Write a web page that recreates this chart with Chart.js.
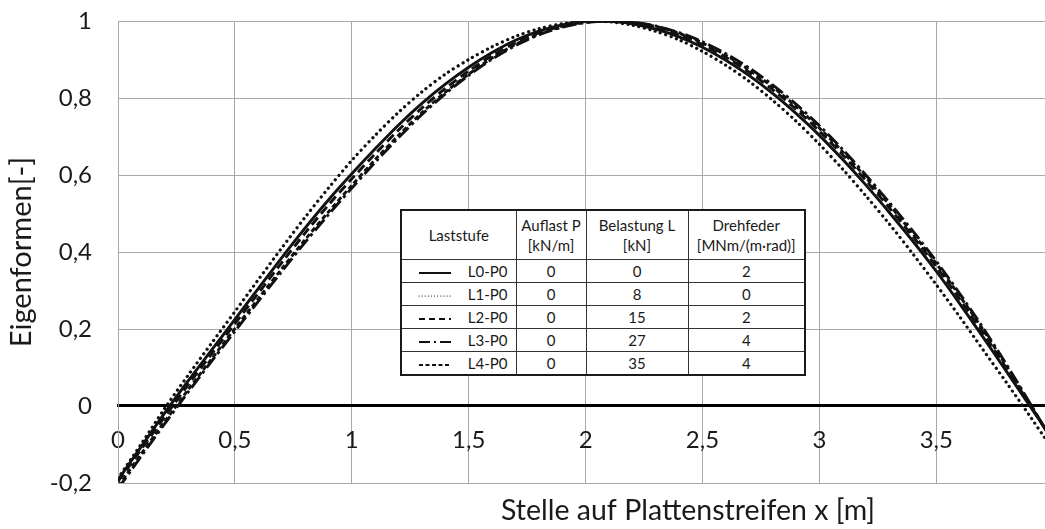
<!DOCTYPE html>
<html>
<head>
<meta charset="utf-8">
<script src="https://cdn.jsdelivr.net/npm/chart.js@4/dist/chart.umd.min.js"></script>
<style>
  html, body { margin: 0; padding: 0; background: #fff; }
  #wrap { position: relative; width: 1045px; height: 529px; }
  #legend {
    position: absolute; left: 400px; top: 209px;
    border-collapse: collapse; table-layout: fixed;
    border: 2px solid #1a1a1a; background: #fff;
    font: 15px Lato, sans-serif; color: #1a1a1a;
  }
  #legend td, #legend th {
    border: 1px solid #333; padding: 0; text-align: center;
    font-weight: normal; height: 22px; line-height: 18px;
  }
  #legend th { height: 48px; line-height: 20px; }
  #legend td.name { text-align: right; padding-right: 8px; }
  #legend td.name svg { float: left; margin: 7px 0 0 16px; }
</style>
</head>
<body>
<div id="wrap">
  <canvas id="chart" width="1045" height="529"></canvas>
  <table id="legend"></table>
</div>
<script>
// x positions along the strip [m]
const xs = [0, 0.1, 0.2, 0.3, 0.4, 0.5, 0.6, 0.7, 0.8, 0.9, 1.0, 1.1, 1.2, 1.3, 1.4,
  1.5, 1.6, 1.7, 1.8, 1.9, 2.0, 2.1, 2.2, 2.3, 2.4, 2.5, 2.6, 2.7, 2.8, 2.9, 3.0,
  3.1, 3.2, 3.3, 3.4, 3.5, 3.6, 3.7, 3.8, 3.9, 3.97];

// mode shapes
const l0p0 = [-0.192, -0.105, -0.018, 0.065, 0.145, 0.225, 0.305, 0.385, 0.462, 0.535, 0.603,
  0.668, 0.730, 0.786, 0.836, 0.880, 0.918, 0.950, 0.974, 0.990, 0.999, 0.999, 0.993, 0.979,
  0.959, 0.932, 0.898, 0.858, 0.812, 0.760, 0.703, 0.640, 0.573, 0.502, 0.428, 0.350, 0.266,
  0.179, 0.090, 0.000, -0.062];
const l1p0 = [-0.188, -0.098, -0.006, 0.080, 0.163, 0.245, 0.328, 0.410, 0.490, 0.566, 0.638,
  0.703, 0.763, 0.816, 0.862, 0.900, 0.933, 0.960, 0.980, 0.993, 1.000, 0.998, 0.989, 0.973,
  0.951, 0.921, 0.885, 0.843, 0.794, 0.740, 0.680, 0.615, 0.545, 0.472, 0.395, 0.315, 0.232,
  0.146, 0.061, -0.026, -0.088];
const l2p0 = [-0.196, -0.112, -0.028, 0.055, 0.135, 0.214, 0.293, 0.372, 0.449, 0.522, 0.590,
  0.655, 0.717, 0.774, 0.825, 0.870, 0.910, 0.943, 0.969, 0.987, 0.997, 1.000, 0.996, 0.984,
  0.965, 0.939, 0.906, 0.867, 0.822, 0.771, 0.714, 0.652, 0.585, 0.514, 0.440, 0.362, 0.278,
  0.190, 0.098, 0.004, -0.064];
const l3p0 = [-0.215, -0.130, -0.046, 0.036, 0.116, 0.194, 0.272, 0.349, 0.425, 0.497, 0.566,
  0.633, 0.697, 0.757, 0.811, 0.859, 0.901, 0.936, 0.964, 0.984, 0.996, 1.000, 0.997, 0.987,
  0.970, 0.946, 0.915, 0.878, 0.834, 0.784, 0.728, 0.666, 0.599, 0.528, 0.454, 0.376, 0.292,
  0.203, 0.108, 0.008, -0.064];
const l4p0 = [-0.208, -0.124, -0.040, 0.042, 0.122, 0.201, 0.279, 0.356, 0.432, 0.504, 0.573,
  0.640, 0.703, 0.762, 0.815, 0.862, 0.904, 0.939, 0.966, 0.985, 0.997, 1.000, 0.996, 0.986,
  0.968, 0.943, 0.911, 0.873, 0.829, 0.778, 0.722, 0.660, 0.593, 0.522, 0.448, 0.370, 0.286,
  0.198, 0.104, 0.006, -0.064];

// legend table
const laststufe = ['L0-P0', 'L1-P0', 'L2-P0', 'L3-P0', 'L4-P0'];
const auflastP = [0, 0, 0, 0, 0];
const belastungL = [0, 8, 15, 27, 35];
const drehfeder = [2, 0, 2, 4, 4];
const headers = [['Laststufe'], ['Auflast P', '[kN/m]'], ['Belastung L', '[kN]'], ['Drehfeder', '[MNm/(m\u00b7rad)]']];

const xTitle = 'Stelle auf Plattenstreifen x [m]';
const yTitle = 'Eigenformen[-]';

const series = [l0p0, l1p0, l2p0, l3p0, l4p0];
// line styles per Laststufe: canvas dash, svg dasharray, cap
const styles = [
  { dash: [], svg: '', cap: 'butt' },
  { dash: [0.1, 5.5], svg: '0.1 3', cap: 'round' },
  { dash: [9, 5], svg: '6 4', cap: 'butt' },
  { dash: [14, 4, 3, 4], svg: '11 4 2 4', cap: 'butt' },
  { dash: [5, 3], svg: '4 2.5', cap: 'butt' },
];

const fmt = v => String(Math.round(v * 10) / 10).replace('.', ',');

Chart.defaults.font.family = 'Lato, sans-serif';
Chart.defaults.color = '#1a1a1a';

const xTitlePlugin = {
  id: 'xTitle',
  afterDraw(chart) {
    const ctx = chart.ctx;
    ctx.save();
    ctx.font = '28.5px Lato, sans-serif';
    ctx.fillStyle = '#1a1a1a';
    ctx.textAlign = 'center';
    ctx.textBaseline = 'middle';
    ctx.fillText(xTitle, 688, 511);
    ctx.restore();
  }
};

new Chart(document.getElementById('chart'), {
  type: 'line',
  data: {
    datasets: series.map((s, i) => ({
      label: laststufe[i],
      data: xs.map((x, j) => ({ x: x, y: s[j] })),
      borderColor: '#111',
      borderWidth: i === 1 ? 3.2 : 2.9,
      borderDash: styles[i].dash,
      borderCapStyle: styles[i].cap,
      pointRadius: 0,
      tension: 0.3,
      fill: false,
    })),
  },
  options: {
    responsive: false,
    animation: false,
    layout: { padding: { top: 21, right: 0, bottom: 46, left: 0 } },
    plugins: {
      legend: { display: false },
      tooltip: { enabled: false },
    },
    scales: {
      x: {
        type: 'linear',
        min: 0,
        max: 3.965,
        position: { y: 0 },
        grid: { color: '#a8a8a8', lineWidth: 1, drawTicks: false },
        border: { display: true, color: '#000', width: 3 },
        ticks: {
          stepSize: 0.5,
          includeBounds: false,
          padding: 20,
          maxRotation: 0,
          font: { size: 24 },
          callback: v => fmt(v),
        },
      },
      y: {
        type: 'linear',
        min: -0.2,
        max: 1,
        afterFit: s => { s.width = 118; },
        grid: { color: '#a8a8a8', lineWidth: 1, drawTicks: true, tickLength: 26, tickColor: 'rgba(0,0,0,0)' },
        border: { display: true, color: '#a8a8a8', width: 1 },
        ticks: {
          stepSize: 0.2,
          padding: 0,
          font: { size: 24 },
          callback: v => fmt(v),
        },
        title: {
          display: true,
          text: yTitle,
          font: { size: 29 },
          padding: { top: 4, bottom: 0 },
        },
      },
    },
  },
  plugins: [xTitlePlugin],
});

// build legend table
const table = document.getElementById('legend');
const colWidths = [115, 70, 102, 117];
const colgroup = document.createElement('colgroup');
colWidths.forEach(w => {
  const c = document.createElement('col');
  c.style.width = w + 'px';
  colgroup.appendChild(c);
});
table.appendChild(colgroup);
const head = document.createElement('tr');
headers.forEach(h => {
  const th = document.createElement('th');
  th.innerHTML = h.join('<br>');
  head.appendChild(th);
});
table.appendChild(head);
laststufe.forEach((name, i) => {
  const tr = document.createElement('tr');
  const st = styles[i];
  const td = document.createElement('td');
  td.className = 'name';
  td.innerHTML = '<svg width="34" height="8"><line x1="1" y1="4" x2="33" y2="4" stroke="#111" stroke-width="' +
    (i === 1 ? 1.2 : 2) + '" stroke-dasharray="' + st.svg + '" stroke-linecap="' + st.cap + '"/></svg>' + name;
  tr.appendChild(td);
  [auflastP[i], belastungL[i], drehfeder[i]].forEach(v => {
    const c = document.createElement('td');
    c.textContent = v;
    tr.appendChild(c);
  });
  table.appendChild(tr);
});
</script>
</body>
</html>
